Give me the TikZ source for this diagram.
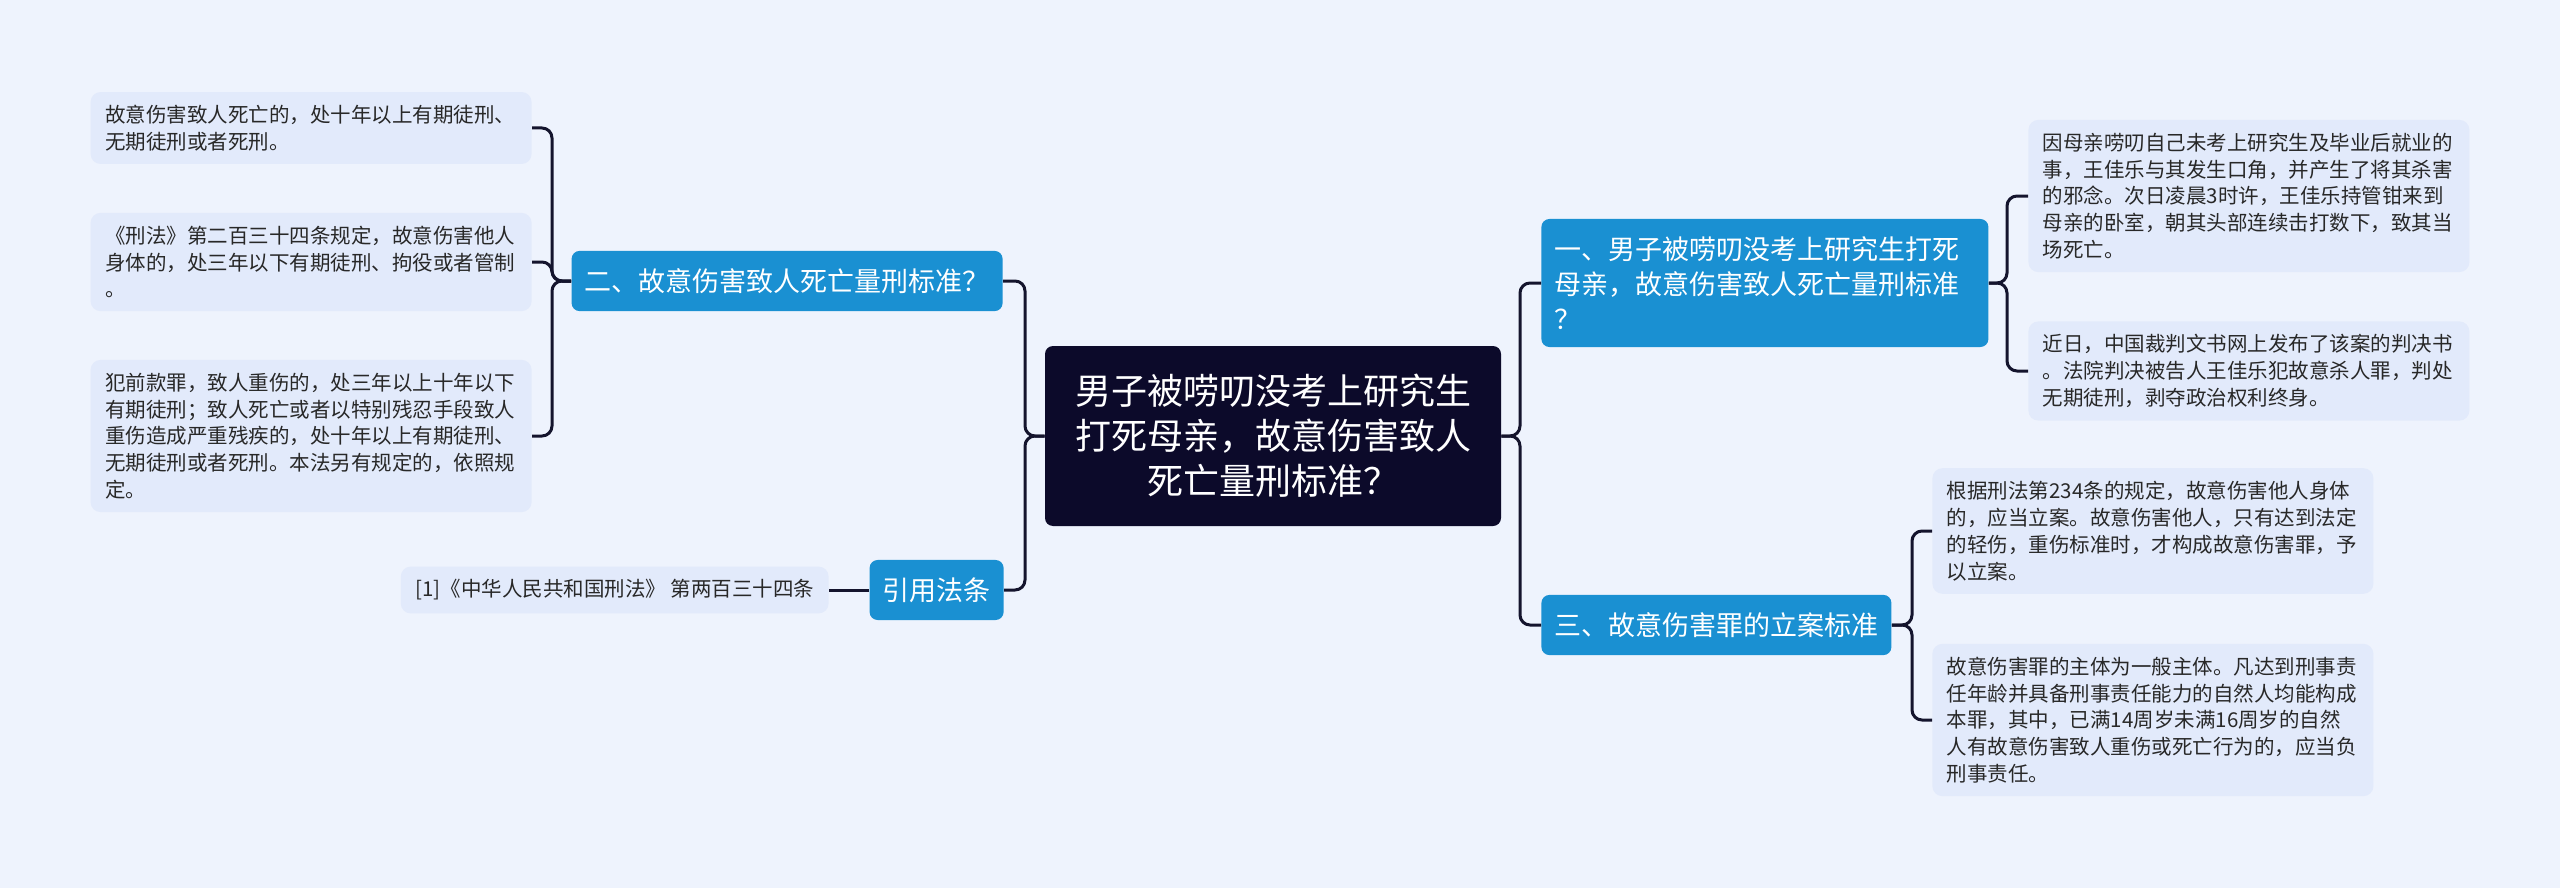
\documentclass[tikz,border=0pt]{standalone}
\usepackage{fontspec}
\setmainfont{Noto Sans CJK SC}
\definecolor{bgc}{RGB}{238,243,253}
\definecolor{leafc}{RGB}{226,234,251}
\definecolor{branchc}{RGB}{26,144,210}
\definecolor{rootc}{RGB}{12,10,42}
\definecolor{linec}{RGB}{20,20,45}
\definecolor{leaftext}{RGB}{40,40,40}

\begin{document}
\begin{tikzpicture}
  [x=0.5pt,y=-0.5pt,
   every node/.style={inner xsep=6.5pt,inner ysep=8.75pt},
   topic/.style={fill=rootc,text=white,rounded corners=4pt,align=center,
     font=\fontsize{18pt}{22.5pt}\selectfont,minimum width=228pt,minimum height=90pt},
   branch/.style={fill=branchc,text=white,rounded corners=4pt,align=left,
     font=\fontsize{13.5pt}{17.5pt}\selectfont},
   leaf/.style={fill=leafc,text=leaftext,rounded corners=5pt,align=left,
     inner xsep=7.25pt,inner ysep=6.5pt,font=\fontsize{10.25pt}{13.4pt}\selectfont},
   link/.style={draw=linec,line width=1.5pt,rounded corners=5pt}]
  \fill[bgc] (0,0) rectangle (2560,888);

  \node[topic] (root) at (1273,436) {男子被唠叨没考上研究生\\打死母亲，故意伤害致人\\死亡量刑标准？};

  \node[branch,anchor=west,text width=210.5pt] (b1) at (1541,283) {一、男子被唠叨没考上研究生打死\\母亲，故意伤害致人死亡量刑标准\\？};
  \node[branch,anchor=east] (b2) at (1003,281) {二、故意伤害致人死亡量刑标准？};
  \node[branch,anchor=west] (b3) at (1541,625) {三、故意伤害罪的立案标准};
  \node[branch,anchor=east] (b4) at (1004,590) {引用法条};

  \node[leaf,anchor=east,text width=206pt] (l1) at (532,128) {故意伤害致人死亡的，处十年以上有期徒刑、\\无期徒刑或者死刑。};
  \node[leaf,anchor=east,text width=206pt] (l2) at (532,262) {《刑法》第二百三十四条规定，故意伤害他人\\身体的，处三年以下有期徒刑、拘役或者管制\\。};
  \node[leaf,anchor=east,text width=206pt] (l3) at (532,436) {犯前款罪，致人重伤的，处三年以上十年以下\\有期徒刑；致人死亡或者以特别残忍手段致人\\重伤造成严重残疾的，处十年以上有期徒刑、\\无期徒刑或者死刑。本法另有规定的，依照规\\定。};
  \node[leaf,anchor=east] (ref) at (829,590) {[1]《中华人民共和国刑法》 第两百三十四条};

  \node[leaf,anchor=west,text width=206pt] (r1) at (2028,196) {因母亲唠叨自己未考上研究生及毕业后就业的\\事，王佳乐与其发生口角，并产生了将其杀害\\的邪念。次日凌晨3时许，王佳乐持管钳来到\\母亲的卧室，朝其头部连续击打数下，致其当\\场死亡。};
  \node[leaf,anchor=west,text width=206pt] (r2) at (2028,371) {近日，中国裁判文书网上发布了该案的判决书\\。法院判决被告人王佳乐犯故意杀人罪，判处\\无期徒刑，剥夺政治权利终身。};
  \node[leaf,anchor=west,text width=206pt] (r3) at (1932,531) {根据刑法第234条的规定，故意伤害他人身体\\的，应当立案。故意伤害他人，只有达到法定\\的轻伤，重伤标准时，才构成故意伤害罪，予\\以立案。};
  \node[leaf,anchor=west,text width=206pt] (r4) at (1932,720) {故意伤害罪的主体为一般主体。凡达到刑事责\\任年龄并具备刑事责任能力的自然人均能构成\\本罪，其中，已满14周岁未满16周岁的自然\\人有故意伤害致人重伤或死亡行为的，应当负\\刑事责任。};

  % trunk
  \foreach \to in {b2,b4}
    \draw[link] (root.west) -- (1025,436) |- (\to.east);
  \foreach \to in {b1,b3}
    \draw[link] (root.east) -- (1520,436) |- (\to.west);
  % brackets
  \foreach \to in {l1,l2,l3}
    \draw[link] (b2.west) -- (552,281) |- (\to.east);
  \foreach \to in {r1,r2}
    \draw[link] (b1.east) -- (2007,283) |- (\to.west);
  \foreach \to in {r3,r4}
    \draw[link] (b3.east) -- (1912,625) |- (\to.west);
  \draw[link] (b4.west) -- (ref.east);
\end{tikzpicture}
\end{document}
